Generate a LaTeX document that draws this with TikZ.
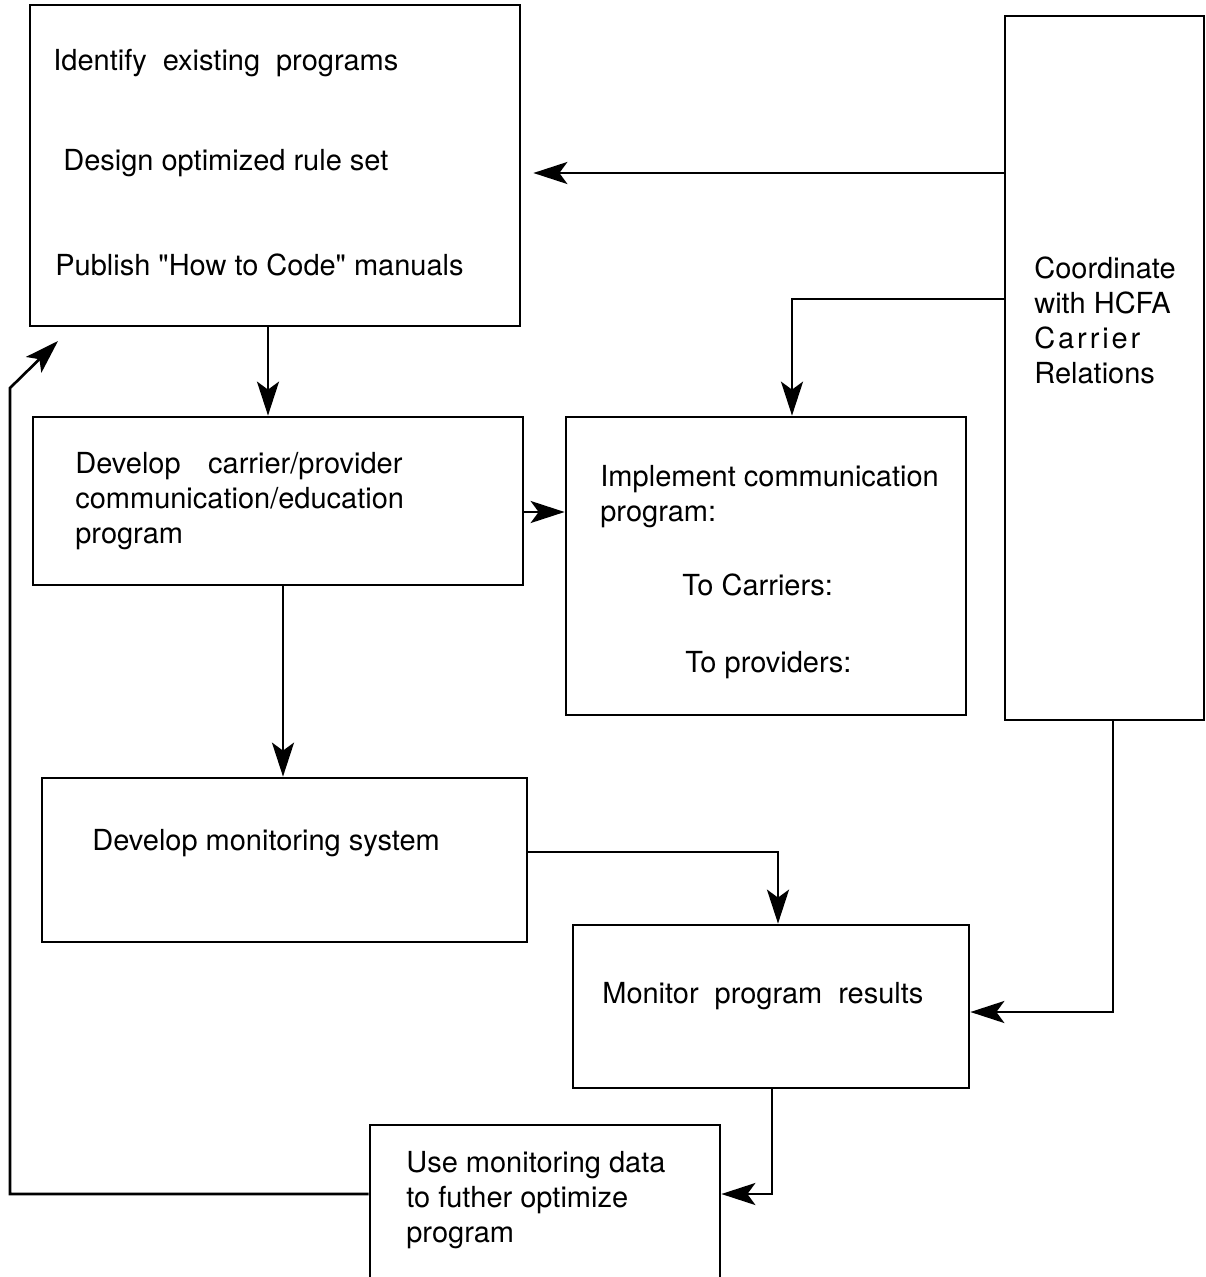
\documentclass[tikz,border=0pt]{standalone}
\usepackage{fontspec}
\setmainfont{TeX Gyre Heros}
\usetikzlibrary{positioning,arrows.meta}
\newcommand{\widewords}{\spaceskip=0.55em plus 0.1em\relax}
\newcommand{\widerwords}{\spaceskip=0.95em plus 0.1em\relax}

\begin{document}
\begin{tikzpicture}[x=0.02cm,y=-0.02cm,
    box/.style={draw,line width=1.6pt,inner sep=0pt},
    label/.style={inner sep=0pt,anchor=west,align=left,
      font=\fontsize{16.5}{20}\selectfont},
    wide/.style={execute at begin node=\widewords},
    wider/.style={execute at begin node=\widerwords},
    flow/.style={line width=1.5pt,-{Stealth[length=0.68cm,width=0.44cm,inset=0.16cm]}}]
        \clip (0,0) rectangle (1206,1277);
        % boxes
        \node[box,minimum width=9.8cm,minimum height=6.42cm] (top) at (275,165.5) {};
        \node[box,minimum width=3.98cm,minimum height=14.08cm] (coord) at (1104.5,368) {};
        \node[box,minimum width=9.8cm,minimum height=3.36cm] (devcomm) at (278,501) {};
        \node[box,minimum width=8cm,minimum height=5.96cm] (impl) at (766,566) {};
        \node[box,minimum width=9.7cm,minimum height=3.28cm] (devmon) at (284.5,860) {};
        \node[box,minimum width=7.92cm,minimum height=3.26cm] (monres) at (771,1006.5) {};
        \node[box,minimum width=7cm,minimum height=3.5cm] (usedata) at (545,1212.5) {};
        % texts
        \node[label,wide] (t1) at (53,63) {Identify existing programs};
        \node[label] (t2) at (63,163) {Design optimized rule set};
        \node[label] (t3) at (55,265) {Publish \textquotedbl How to Code\textquotedbl\ manuals};
        \node[label,wider] (t4) at (75,501) {Develop carrier/provider\\communication/education\\program};
        \node[label] (t5) at (600,497) {Implement communication\\program:};
        \node[label] (t6) at (682,585) {To Carriers:};
        \node[label] (t7) at (685,665) {To providers:};
        \node[label] (t8) at (1034,320.5) {Coordinate\\with HCFA\\{\addfontfeature{LetterSpace=10}Carrier}\\Relations};
        \node[label] (t9) at (92,843) {Develop monitoring system};
        \node[label,wide] (t10) at (602,996) {Monitor program results};
        \node[label] (t11) at (406,1200) {Use monitoring data\\to futher optimize\\program};
        % connectors
        \draw[flow,shorten >=0.24cm] (coord.west |- 0,173) -- (top.east |- 0,173);
        \draw[flow] (coord.west |- 0,299) -| (792,0 |- impl.north);
        \draw[flow] (268,0 |- top.south) -- (268,0 |- devcomm.north);
        \draw[flow] (devcomm.east |- 0,512) -- (impl.west |- 0,512);
        \draw[flow] (283,0 |- devcomm.south) -- (283,0 |- devmon.north);
        \draw[flow] (devmon.east |- 0,852) -| (778,0 |- monres.north);
        \draw[flow] (1113,0 |- coord.south) |- (monres.east |- 0,1012);
        \draw[flow] (772,0 |- monres.south) |- (usedata.east |- 0,1194);
        % feedback loop
        \coordinate (fbbend) at (10,388);
        \coordinate (fbtip) at (58,341);
        \draw[flow] (usedata.west |- 0,1194) -| (fbbend) -- (fbtip);
\end{tikzpicture}
\end{document}
